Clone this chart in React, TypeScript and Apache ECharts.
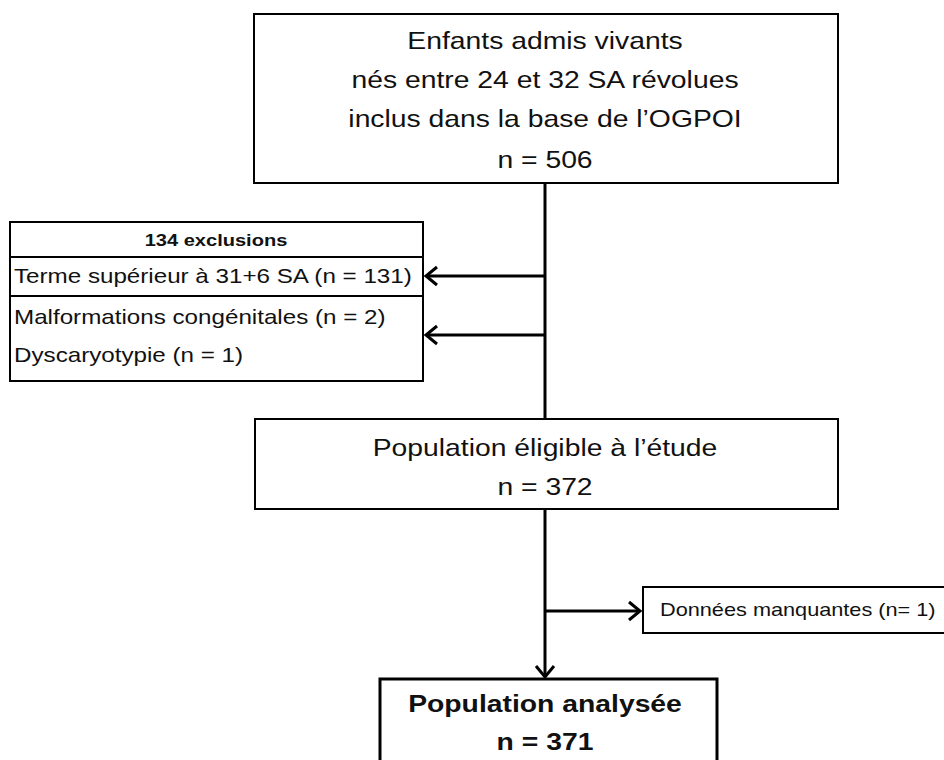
import React, { useEffect, useRef } from "react";
import * as echarts from "echarts";

// ---- Data ----
const topLines = ["Enfants admis vivants", "nés entre 24 et 32 SA révolues", "inclus dans la base de l’OGPOI"];
const stageCounts = [506, 372, 371];
const eligibleLabel = "Population éligible à l’étude";
const analysedLabel = "Population analysée";
const exclusionLabels = ["Terme supérieur à 31+6 SA", "Malformations congénitales", "Dyscaryotypie"];
const exclusionCounts = [131, 2, 1];
const missingLabel = "Données manquantes";
const missingCounts = [1];

const FONT = '"Liberation Sans", Arial, Helvetica, sans-serif';
const SX = 1.18;
const INK = "#111";

function txt(x: number, y: number, text: string, size: number, bold = false, align = "center") {
  return {
    type: "text",
    x,
    y,
    scaleX: SX,
    style: {
      text,
      fill: INK,
      fontSize: size,
      fontWeight: bold ? "bold" : "normal",
      fontFamily: FONT,
      textAlign: align,
      textVerticalAlign: "middle",
    },
  };
}
function box(x: number, y: number, w: number, h: number, lw = 2) {
  return {
    type: "rect",
    shape: { x, y, width: w, height: h },
    style: { fill: "#fff", stroke: "#000", lineWidth: lw },
  };
}
function line(x1: number, y1: number, x2: number, y2: number, lw = 3) {
  return { type: "line", shape: { x1, y1, x2, y2 }, style: { stroke: "#000", lineWidth: lw } };
}
function head(tx: number, ty: number, dir: "left" | "right" | "down") {
  const L = 11, W = 9;
  let pts: number[][];
  if (dir === "left") pts = [[tx + L, ty - W], [tx, ty], [tx + L, ty + W]];
  else if (dir === "right") pts = [[tx - L, ty - W], [tx, ty], [tx - L, ty + W]];
  else pts = [[tx - W, ty - L], [tx, ty], [tx + W, ty - L]];
  return { type: "polyline", shape: { points: pts }, style: { stroke: "#000", lineWidth: 3, fill: null } };
}

export default function App() {
  const ref = useRef<HTMLDivElement>(null);
  useEffect(() => {
    if (!ref.current) return;
    const chart = echarts.init(ref.current, null, { renderer: "svg" });
    const totalExcl = exclusionCounts.reduce((a, b) => a + b, 0);
    const cx = 545;
    const g: any[] = [];
    // connectors
    g.push(line(cx, 183, cx, 419));
    g.push(line(cx, 276, 426, 276));
    g.push(head(426, 276, "left"));
    g.push(line(cx, 335, 426, 335));
    g.push(head(426, 335, "left"));
    g.push(line(cx, 509, cx, 677));
    g.push(head(cx, 677, "down"));
    g.push(line(cx, 611, 640, 611));
    g.push(head(640, 611, "right"));
    // top box
    g.push(box(254, 14, 584, 169));
    topLines.forEach((t, i) => g.push(txt(cx, 41 + i * 39, t, 24)));
    g.push(txt(cx, 160, `n = ${stageCounts[0]}`, 24));
    // exclusions box
    g.push(box(10, 222, 413, 159));
    g.push(line(10, 257, 423, 257, 2));
    g.push(line(10, 296, 423, 296, 2));
    g.push(txt(216, 240, `${totalExcl} exclusions`, 17, true));
    g.push(txt(14, 276, `${exclusionLabels[0]} (n = ${exclusionCounts[0]})`, 20.5, false, "left"));
    g.push(txt(14, 317, `${exclusionLabels[1]} (n = ${exclusionCounts[1]})`, 20.5, false, "left"));
    g.push(txt(14, 355, `${exclusionLabels[2]} (n = ${exclusionCounts[2]})`, 20.5, false, "left"));
    // eligible box
    g.push(box(255, 419, 583, 90));
    g.push(txt(cx, 448, eligibleLabel, 24));
    g.push(txt(cx, 487, `n = ${stageCounts[1]}`, 24));
    // missing box
    g.push(box(643, 587, 310, 46));
    g.push(txt(660, 610, `${missingLabel} (n= ${missingCounts[0]})`, 18.4, false, "left"));
    // final box
    g.push(box(380, 679, 337, 100, 3));
    g.push(txt(cx, 704, analysedLabel, 24, true));
    g.push(txt(cx, 742, `n = ${stageCounts[2]}`, 24, true));

    chart.setOption({ animation: false, backgroundColor: "#fff", graphic: { elements: g } });
    return () => chart.dispose();
  }, []);
  return <div ref={ref} style={{ position: "absolute", left: 0, top: 0, width: 944, height: 760 }} />;
}
